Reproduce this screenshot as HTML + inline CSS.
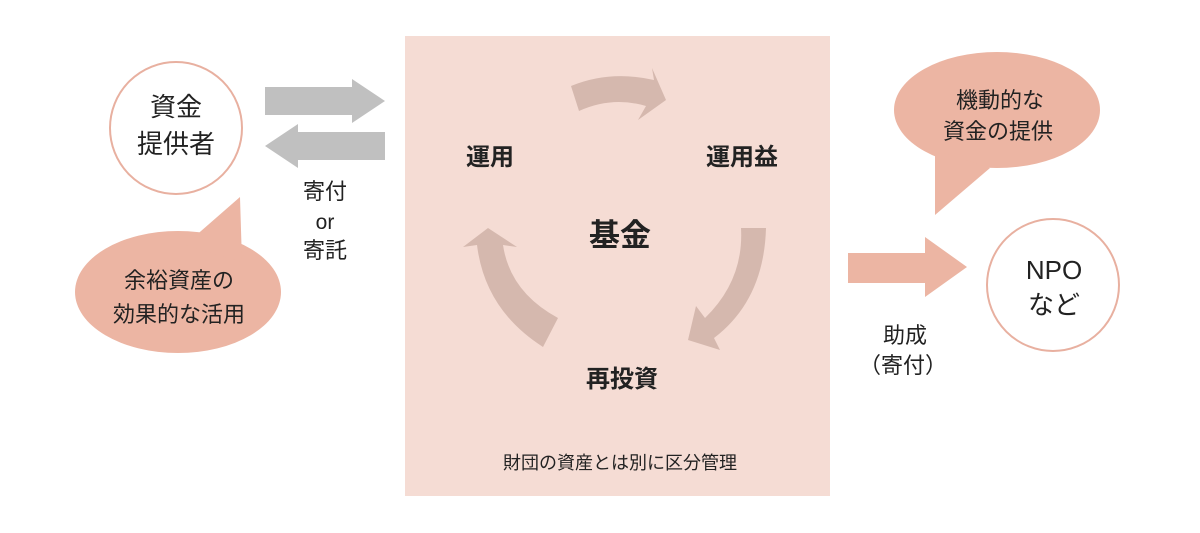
<!DOCTYPE html>
<html><head><meta charset="utf-8"><style>
html,body{margin:0;padding:0;background:#fff;}
svg{display:block;}
text{font-family:"Liberation Sans","Noto Sans CJK JP",sans-serif;fill:#222;}
</style></head><body>
<svg width="1200" height="533" viewBox="0 0 1200 533" xmlns="http://www.w3.org/2000/svg">
<rect x="405" y="36" width="425" height="460" fill="#f5dcd4"/>
<g fill="#d5b8ae">
<path d="M571,86 Q610,70 654,80 L652,68 L666,100 L638,120 L646,106 Q612,96 579,111 Z"/>
<path d="M741,228 L766,228 Q764,300 714,338 L720,350 L688,340 L696,306 L705,318 Q744,280 741,228 Z"/>
<path d="M558,318 L543,347 Q485,310 477,245 L463,247 L488,228 L517,247 L503,245 Q510,292 558,318 Z"/>
</g>
<text x="490" y="165" font-size="24" font-weight="bold" text-anchor="middle">運用</text>
<text x="742" y="165" font-size="24" font-weight="bold" text-anchor="middle">運用益</text>
<text x="620" y="246" font-size="31" font-weight="bold" text-anchor="middle">基金</text>
<text x="622" y="387" font-size="24" font-weight="bold" text-anchor="middle">再投資</text>
<text x="620" y="469" font-size="18" text-anchor="middle">財団の資産とは別に区分管理</text>
<circle cx="176" cy="128" r="66" fill="#fff" stroke="#e8b0a0" stroke-width="2"/>
<text x="176" y="116" font-size="26" text-anchor="middle">資金</text>
<text x="176" y="153" font-size="26" text-anchor="middle">提供者</text>
<g fill="#c0c0c0">
<path d="M265,87 L352,87 L352,79 L385,101 L352,123 L352,115 L265,115 Z"/>
<path d="M385,132 L298,132 L298,124 L265,146 L298,168 L298,160 L385,160 Z"/>
</g>
<text x="325" y="199" font-size="22" text-anchor="middle">寄付</text>
<text x="325" y="229" font-size="21" text-anchor="middle">or</text>
<text x="325" y="258" font-size="22" text-anchor="middle">寄託</text>
<g fill="#ecb5a3">
<ellipse cx="178" cy="292" rx="103" ry="61"/>
<path d="M185,245 L240,197 L242,262 Z"/>
</g>
<text x="179" y="288" font-size="22" text-anchor="middle">余裕資産の</text>
<text x="179" y="322" font-size="22" text-anchor="middle">効果的な活用</text>
<g fill="#ecb5a3">
<ellipse cx="997" cy="110" rx="103" ry="58"/>
<path d="M935,150 L935,215 L990,168 Z"/>
</g>
<text x="1000" y="108" font-size="22" text-anchor="middle">機動的な</text>
<text x="998" y="139" font-size="22" text-anchor="middle">資金の提供</text>
<path d="M848,253 L925,253 L925,237 L967,267 L925,297 L925,283 L848,283 Z" fill="#ecb5a3"/>
<text x="905" y="343" font-size="22" text-anchor="middle">助成</text>
<text x="903" y="373" font-size="22" text-anchor="middle">（寄付）</text>
<circle cx="1053" cy="285" r="66" fill="#fff" stroke="#e8b0a0" stroke-width="2"/>
<text x="1054" y="279" font-size="26" text-anchor="middle">NPO</text>
<text x="1054" y="314" font-size="26" text-anchor="middle">など</text>
</svg>
</body></html>
